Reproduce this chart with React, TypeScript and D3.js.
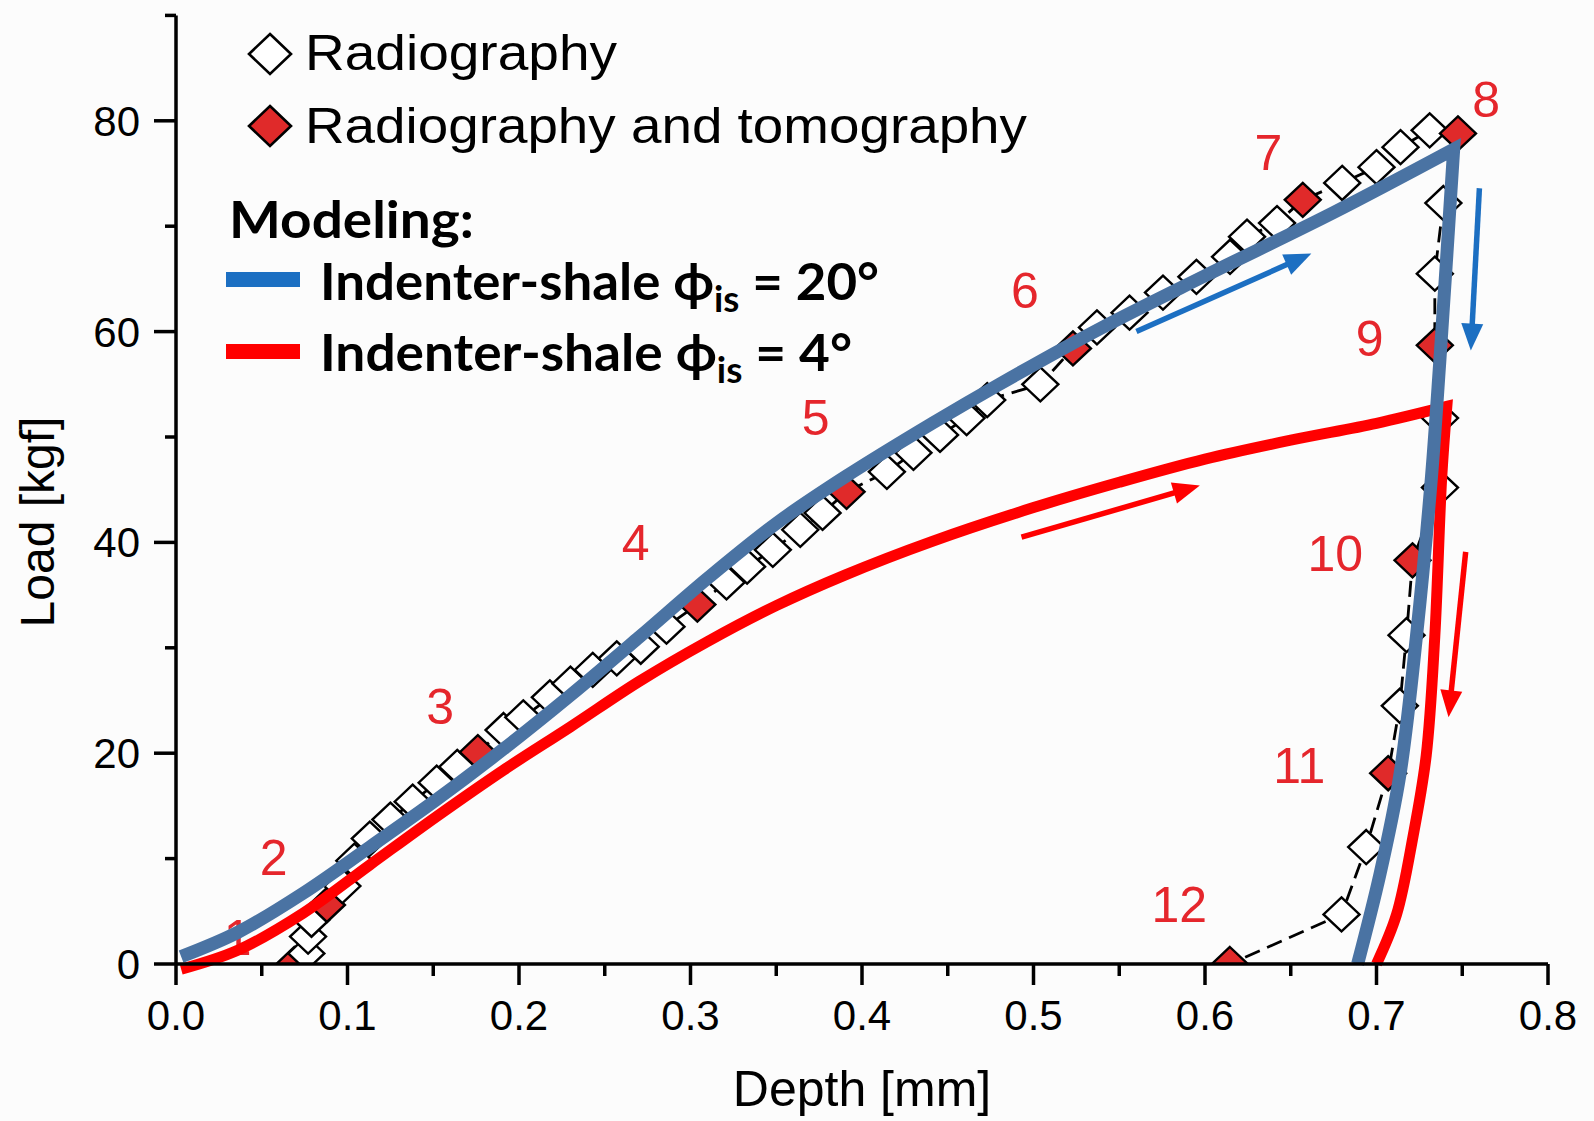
import React from 'react';
import * as d3 from 'd3';

// ---------- data ----------
// Experimental scans: depth [mm], load [kgf], kind: 'R' radiography, 'RT' radiography + tomography
const scanDepth = [
  0.069, 0.076, 0.077, 0.079, 0.088, 0.097, 0.104, 0.113, 0.125, 0.138, 0.152, 0.164, 0.176,
  0.191, 0.2025, 0.218, 0.23, 0.243, 0.257, 0.271, 0.286, 0.304, 0.321, 0.333, 0.348, 0.364,
  0.377, 0.391, 0.4145, 0.43, 0.4455, 0.461, 0.473, 0.504, 0.523, 0.537, 0.556, 0.5755, 0.595,
  0.6146, 0.6245, 0.642, 0.657, 0.68, 0.7, 0.714, 0.731, 0.7475,
  0.739, 0.734, 0.734, 0.737, 0.737, 0.721, 0.7175, 0.7136, 0.7068, 0.694, 0.6796, 0.6145,
];
const scanLoad = [
  0.0, 1.0, 2.6, 4.2, 5.6, 7.4, 9.8, 11.9, 13.7, 15.4, 17.2, 18.7, 20.1,
  22.2, 23.4, 25.3, 26.6, 27.9, 29.0, 30.1, 32.0, 34.1, 36.2, 37.7, 39.3, 41.2,
  42.8, 44.8, 46.7, 48.5, 50.2, 51.8, 53.5, 55.0, 58.4, 60.4, 61.8, 63.7, 65.2,
  67.1, 69.0, 70.3, 72.5, 74.1, 75.6, 77.5, 79.1, 78.8,
  72.2, 65.5, 58.7, 51.8, 45.2, 38.3, 31.2, 24.5, 18.1, 11.1, 4.7, 0.0,
];
const scanKind = [
  'RT', 'R', 'R', 'R', 'RT', 'R', 'R', 'R', 'R', 'R', 'R', 'R', 'RT',
  'R', 'R', 'R', 'R', 'R', 'R', 'R', 'R', 'RT', 'R', 'R', 'R', 'R',
  'R', 'RT', 'R', 'R', 'R', 'R', 'R', 'R', 'RT', 'R', 'R', 'R', 'R',
  'R', 'R', 'R', 'RT', 'R', 'R', 'R', 'R', 'RT',
  'R', 'R', 'RT', 'R', 'R', 'RT', 'R', 'R', 'RT', 'R', 'R', 'RT',
];

// Model, indenter-shale phi = 20 deg (blue)
const blueLoadDepth = [0.003, 0.036, 0.074, 0.113, 0.152, 0.191, 0.23, 0.27, 0.31, 0.35, 0.39, 0.441, 0.48, 0.539, 0.6, 0.675, 0.745];
const blueLoadLoad = [0.7, 3.0, 6.7, 11.1, 15.6, 20.4, 25.5, 31.0, 36.6, 41.8, 46.2, 51.3, 55.0, 60.3, 65.3, 71.3, 77.3];
const blueUnloadDepth = [0.745, 0.737, 0.732, 0.7233, 0.7136, 0.702, 0.689];
const blueUnloadLoad = [77.3, 57.4, 46.1, 31.1, 17.9, 8.5, 0.0];

// Model, indenter-shale phi = 4 deg (red)
const redLoadDepth = [0.003, 0.036, 0.074, 0.113, 0.152, 0.191, 0.23, 0.27, 0.31, 0.35, 0.39, 0.441, 0.5, 0.55, 0.6, 0.65, 0.7, 0.741];
const redLoadLoad = [-0.5, 1.3, 4.8, 9.4, 14.0, 18.4, 22.5, 26.8, 30.6, 34.0, 36.9, 40.1, 43.3, 45.7, 47.9, 49.7, 51.3, 52.9];
const redUnloadDepth = [0.741, 0.738, 0.734, 0.729, 0.7214, 0.7117, 0.7];
const redUnloadLoad = [52.9, 46.1, 31.1, 19.8, 12.2, 4.7, 0.0];

// Scan number annotations
const stepLabels = ['1', '2', '3', '4', '5', '6', '7', '8', '9', '10', '11', '12'];
const stepDepth = [0.036, 0.057, 0.154, 0.268, 0.373, 0.495, 0.637, 0.764, 0.696, 0.676, 0.655, 0.585];
const stepLoad = [0.85, 8.4, 22.8, 38.3, 50.2, 62.2, 75.3, 80.4, 57.7, 37.3, 17.2, 4.0];

// Direction arrows [fromDepth, fromLoad, toDepth, toLoad]
const blueArrows = [
  [0.56, 60.0, 0.662, 67.4],
  [0.76, 73.6, 0.755, 58.2],
];
const redArrows = [
  [0.493, 40.5, 0.597, 45.4],
  [0.752, 39.1, 0.742, 23.4],
];

// Axes
const xMajor = [0, 0.1, 0.2, 0.3, 0.4, 0.5, 0.6, 0.7, 0.8];
const xMinor = [0.05, 0.15, 0.25, 0.35, 0.45, 0.55, 0.65, 0.75];
const yMajor = [0, 20, 40, 60, 80];
const yMinor = [10, 30, 50, 70, 90];

// ---------- layout ----------
const W = 1594;
const H = 1121;
const x = d3.scaleLinear().domain([0, 0.8]).range([176, 1548]);
const y = d3.scaleLinear().domain([0, 90]).range([964, 15.4]);

const CHART_BLUE = '#4a73a3';
const LEGEND_BLUE = '#1c6fc2';
const CURVE_RED = '#ff0000';
const LABEL_RED = '#e5262c';
const MARK_RED = '#e02a2a';
const ARIAL = '"Liberation Sans", Arial, sans-serif';
const BOLD = 'Lato, "Open Sans", "DejaVu Sans", sans-serif';

function diamond(cx: number, cy: number, hw: number, hh: number) {
  return `M${cx},${cy - hh}L${cx + hw},${cy}L${cx},${cy + hh}L${cx - hw},${cy}Z`;
}

function modelPath(ld: number[], ll: number[], ud: number[], ul: number[]) {
  const gen = d3
    .line<[number, number]>()
    .x((p) => x(p[0]))
    .y((p) => y(p[1]))
    .curve(d3.curveCatmullRom.alpha(0.5));
  const a = gen(ld.map((d, i) => [d, ll[i]] as [number, number])) || '';
  const b = gen(ud.map((d, i) => [d, ul[i]] as [number, number])) || '';
  // drop the leading move-to of the second part so the corner is a real join
  const rest = b.replace(/^M[^A-Za-z]*/, '');
  return a + rest;
}

function Arrow({ a, color }: { a: number[]; color: string }) {
  const x1 = x(a[0]);
  const y1 = y(a[1]);
  const x2 = x(a[2]);
  const y2 = y(a[3]);
  const dx = x2 - x1;
  const dy = y2 - y1;
  const len = Math.hypot(dx, dy);
  const ux = dx / len;
  const uy = dy / len;
  const hl = 27;
  const hw = 11;
  const bx = x2 - ux * hl;
  const by = y2 - uy * hl;
  return (
    <g>
      <line x1={x1} y1={y1} x2={bx + ux * 2} y2={by + uy * 2} stroke={color} strokeWidth={5.5} />
      <path
        d={`M${x2},${y2}L${bx - uy * hw},${by + ux * hw}L${bx + uy * hw},${by - ux * hw}Z`}
        fill={color}
      />
    </g>
  );
}

export default function App() {
  const pts = scanDepth.map((d, i) => ({ d, l: scanLoad[i], k: scanKind[i] }));
  const connector = d3
    .line<{ d: number; l: number }>()
    .x((p) => x(p.d))
    .y((p) => y(p.l))(pts) || '';

  const bluePath = modelPath(blueLoadDepth, blueLoadLoad, blueUnloadDepth, blueUnloadLoad);
  const redPath = modelPath(redLoadDepth, redLoadLoad, redUnloadDepth, redUnloadLoad);

  const fmt = d3.format('.1f');

  return (
    <svg
      width={W}
      height={H}
      viewBox={`0 0 ${W} ${H}`}
      style={{ position: 'absolute', left: 0, top: 0, background: '#fcfcfc' }}
    >
      <defs>
        <clipPath id="plotClip">
          <rect x={x(0)} y={0} width={x(0.8) - x(0)} height={y(0)} />
        </clipPath>
      </defs>
      <rect x={0} y={0} width={W} height={H} fill="#fcfcfc" />

      {/* experimental data */}
      <g clipPath="url(#plotClip)">
        <path d={connector} fill="none" stroke="#000" strokeWidth={2.8} strokeDasharray="16 8" />
        {pts.map((p, i) => (
          <path
            key={i}
            d={diamond(x(p.d), y(p.l), 18, 17)}
            fill={p.k === 'RT' ? MARK_RED : '#fff'}
            stroke="#000"
            strokeWidth={2.4}
          />
        ))}
      </g>

      {/* step numbers */}
      {stepLabels.map((t, i) => (
        <text
          key={t}
          x={x(stepDepth[i])}
          y={y(stepLoad[i])}
          textAnchor="middle"
          fontFamily={ARIAL}
          fontSize={50}
          fill={LABEL_RED}
        >
          {t}
        </text>
      ))}

      {/* model curves */}
      <path d={redPath} fill="none" stroke={CURVE_RED} strokeWidth={11} strokeLinejoin="miter" />
      <path d={bluePath} fill="none" stroke={CHART_BLUE} strokeWidth={13} strokeLinejoin="miter" />

      {/* arrows */}
      {blueArrows.map((a, i) => (
        <Arrow key={'b' + i} a={a} color={LEGEND_BLUE} />
      ))}
      {redArrows.map((a, i) => (
        <Arrow key={'r' + i} a={a} color={CURVE_RED} />
      ))}

      {/* axes */}
      <g stroke="#000" strokeWidth={3.5}>
        <line x1={x(0)} y1={y(0)} x2={x(0.8)} y2={y(0)} />
        <line x1={x(0)} y1={y(0)} x2={x(0)} y2={y(90)} />
        {xMajor.map((v) => (
          <line key={'xM' + v} x1={x(v)} x2={x(v)} y1={y(0)} y2={y(0) + 21} />
        ))}
        {xMinor.map((v) => (
          <line key={'xm' + v} x1={x(v)} x2={x(v)} y1={y(0)} y2={y(0) + 12} />
        ))}
        {yMajor.map((v) => (
          <line key={'yM' + v} x1={x(0)} x2={x(0) - 22} y1={y(v)} y2={y(v)} />
        ))}
        {yMinor.map((v) => (
          <line key={'ym' + v} x1={x(0)} x2={x(0) - 11} y1={y(v)} y2={y(v)} />
        ))}
      </g>
      <g fontFamily={ARIAL} fontSize={42} fill="#000">
        {xMajor.map((v) => (
          <text key={'xl' + v} x={x(v)} y={1030} textAnchor="middle">
            {fmt(v)}
          </text>
        ))}
        {yMajor.map((v) => (
          <text key={'yl' + v} x={140} y={y(v) + 15} textAnchor="end">
            {String(v)}
          </text>
        ))}
      </g>
      <text x={862} y={1106} textAnchor="middle" fontFamily={ARIAL} fontSize={50} fill="#000">
        Depth [mm]
      </text>
      <text
        transform="translate(54,522) rotate(-90)"
        textAnchor="middle"
        fontFamily={ARIAL}
        fontSize={48}
        fill="#000"
      >
        Load [kgf]
      </text>

      {/* legend */}
      <path d={diamond(270, 54, 21, 20)} fill="#fff" stroke="#000" strokeWidth={2.6} />
      <text x={305} y={70} fontFamily={ARIAL} fontSize={50} textLength={312} lengthAdjust="spacingAndGlyphs">
        Radiography
      </text>
      <path d={diamond(270, 126, 21, 20)} fill={MARK_RED} stroke="#000" strokeWidth={2.6} />
      <text x={305} y={143} fontFamily={ARIAL} fontSize={50} textLength={722} lengthAdjust="spacingAndGlyphs">
        Radiography and tomography
      </text>
      <text
        x={229}
        y={238}
        fontFamily={BOLD}
        fontWeight={700}
        fontSize={52}
        textLength={245}
        lengthAdjust="spacingAndGlyphs"
      >
        Modeling:
      </text>
      <rect x={226} y={272} width={74} height={15} fill={LEGEND_BLUE} />
      <text
        x={320}
        y={300}
        fontFamily={BOLD}
        fontWeight={700}
        fontSize={52}
        textLength={559}
        lengthAdjust="spacingAndGlyphs"
      >
        Indenter-shale ϕ
        <tspan fontSize={36} dy={12}>is</tspan>
        <tspan dy={-12}> = 20°</tspan>
      </text>
      <rect x={226} y={344} width={74} height={15} fill={CURVE_RED} />
      <text
        x={320}
        y={371}
        fontFamily={BOLD}
        fontWeight={700}
        fontSize={52}
        textLength={532}
        lengthAdjust="spacingAndGlyphs"
      >
        Indenter-shale ϕ
        <tspan fontSize={36} dy={12}>is</tspan>
        <tspan dy={-12}> = 4°</tspan>
      </text>
    </svg>
  );
}
